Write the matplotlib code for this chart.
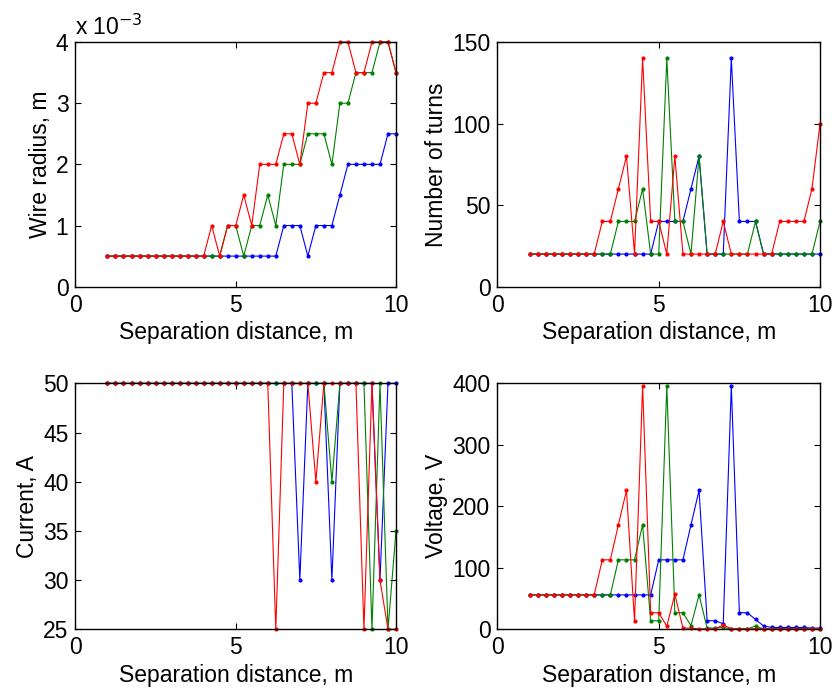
import numpy as np
import matplotlib
matplotlib.use('Agg')
import matplotlib.pyplot as plt
from matplotlib.ticker import FuncFormatter

plt.rcParams['font.family'] = ['Liberation Sans', 'DejaVu Sans']
plt.rcParams['font.size'] = 16.5

# separation distance, m
dist = np.arange(1, 10.001, 0.25)

# wire radius, m
radius_b = np.array([0.5]*22 + [1.0, 1.0, 1.0, 0.5, 1.0, 1.0, 1.0, 1.5,
                                2.0, 2.0, 2.0, 2.0, 2.0, 2.5, 2.5]) * 1e-3
radius_g = np.array([0.5]*15 + [1.0, 1.0, 0.5, 1.0, 1.0, 1.5, 1.0, 2.0, 2.0,
                                2.0, 2.5, 2.5, 2.5, 2.0, 3.0, 3.0, 3.5, 3.5,
                                3.5, 4.0, 4.0, 3.5]) * 1e-3
radius_r = np.array([0.5]*13 + [1.0, 0.5, 1.0, 1.0, 1.5, 1.0, 2.0, 2.0, 2.0,
                                2.5, 2.5, 2.0, 3.0, 3.0, 3.5, 3.5, 4.0, 4.0,
                                3.5, 3.5, 4.0, 4.0, 4.0, 3.5]) * 1e-3

# number of turns
turns_b = [20]*16 + [40, 40, 40, 40, 60, 80, 20, 20, 20, 140, 40, 40, 40,
                     20, 20, 20, 20, 20, 20, 20, 20]
turns_g = [20]*11 + [40, 40, 40, 60, 20, 20, 140, 40, 40, 20, 80, 20, 20, 20,
                     20, 20, 20, 40, 20, 20, 20, 20, 20, 20, 20, 40]
turns_r = [20]*9 + [40, 40, 60, 80, 20, 140, 40, 40, 20, 80, 20, 20, 20, 20,
                    20, 40, 20, 20, 20, 20, 20, 20, 40, 40, 40, 40, 60, 100]

# current, A
current_b = [50]*24 + [30, 50, 50, 50, 30, 50, 50, 50, 50, 50, 30, 50, 50]
current_g = [50]*28 + [40, 50, 50, 50, 50, 25, 50, 25, 35]
current_r = [50]*21 + [25, 50, 50, 50, 50, 40, 50, 50, 50, 50, 50, 25, 50,
                       30, 25, 25]

# voltage, V
voltage_b = [56]*16 + [113, 113, 113, 113, 170, 226, 14, 14, 9, 396, 27, 27,
                       16, 5.5, 3, 3, 3, 3, 3, 2, 2]
voltage_g = [56]*11 + [113, 113, 113, 170, 14, 14, 396, 27, 27, 6, 56, 2, 2,
                       3, 0.5, 0.5, 0.5, 5.5, 0.5, 0.5, 0.5, 0.5, 0.5, 0.5,
                       0.5, 0.5]
voltage_r = [56]*9 + [113, 113, 170, 226, 13, 396, 27, 27, 5, 57, 2, 2, 0.5,
                      1, 1, 7, 1, 1, 1, 1, 1, 1, 1, 1, 1, 1, 1, 1]

colors = ['#0000ff', '#008000', '#ff0000']

fig = plt.figure(figsize=(8.36, 6.89), dpi=100)
ax1 = fig.add_axes([0.0902, 0.5839, 0.3835, 0.3551])
ax2 = fig.add_axes([0.5950, 0.5839, 0.3859, 0.3551])
ax3 = fig.add_axes([0.0902, 0.0866, 0.3835, 0.3570])
ax4 = fig.add_axes([0.5950, 0.0866, 0.3859, 0.3570])

panels = [
    (ax1, [radius_b, radius_g, radius_r], 'Wire radius, m', (0, 4e-3),
     np.arange(0, 4.1e-3, 1e-3)),
    (ax2, [turns_b, turns_g, turns_r], 'Number of turns', (0, 150),
     [0, 50, 100, 150]),
    (ax3, [current_b, current_g, current_r], 'Current, A', (25, 50),
     [25, 30, 35, 40, 45, 50]),
    (ax4, [voltage_b, voltage_g, voltage_r], 'Voltage, V', (0, 400),
     [0, 100, 200, 300, 400]),
]

for ax, series, ylab, ylim, yticks in panels:
    for s, c in zip(series, colors):
        ax.plot(dist, s, '.-', color=c, lw=0.8, ms=4, clip_on=False)
    ax.set_xlim(0, 10)
    ax.set_ylim(*ylim)
    ax.set_xticks([0, 5, 10])
    ax.set_yticks(yticks)
    ax.set_xlabel('Separation distance, m', labelpad=3.5)
    ax.set_ylabel(ylab, labelpad=3)
    ax.tick_params(direction='in', length=4, width=0.8, top=True, right=True,
                   labelsize=16.5, pad=5)
    for sp in ax.spines.values():
        sp.set_linewidth(1.0)

ax1.yaxis.set_major_formatter(FuncFormatter(lambda v, p: '%g' % round(v * 1e3, 6)))
ax1.text(0, 1.01, r'x 10$^{-3}$', transform=ax1.transAxes, fontsize=16.5,
         ha='left', va='bottom')

fig.savefig('out.png', dpi=100)
